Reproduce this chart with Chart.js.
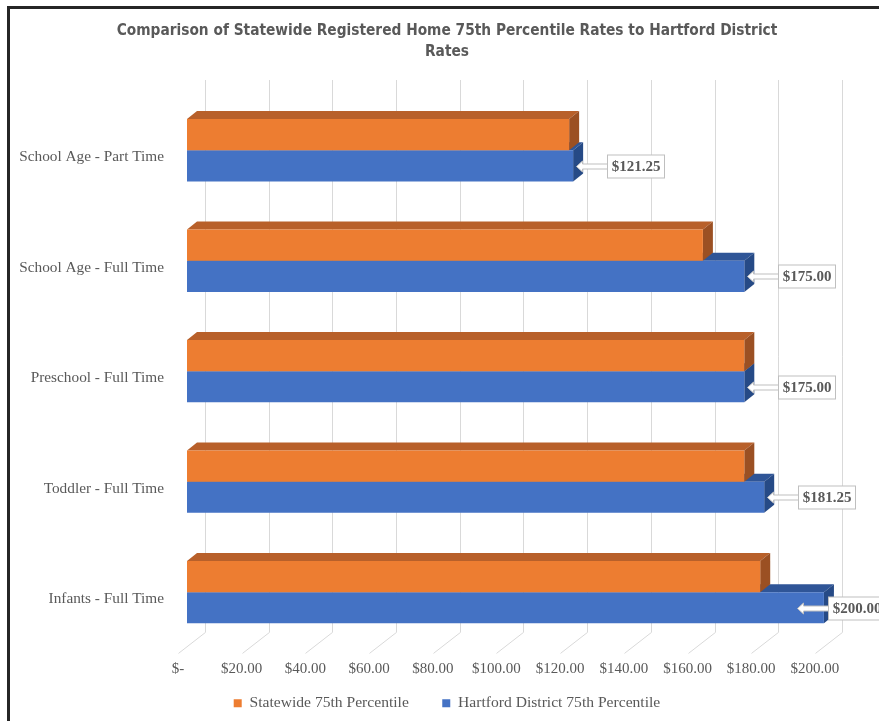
<!DOCTYPE html>
<html>
<head>
<meta charset="utf-8">
<title>Statewide vs Hartford District rates</title>
<script src="https://cdn.jsdelivr.net/npm/chart.js@4.4.1/dist/chart.umd.min.js"></script>
<style>
    html, body { margin: 0; padding: 0; background: #fff; overflow: hidden; }
    #wrap { position: relative; width: 879px; height: 721px; }
    #chart { position: absolute; left: 0; top: 0; }
    #frame {
        position: absolute; left: 7px; top: 6px; width: 900px; height: 800px;
        border-left: 3px solid #262626; border-top: 3px solid #262626;
        pointer-events: none;
    }
</style>
</head>
<body>
<div id="wrap">
    <canvas id="chart" width="879" height="721"></canvas>
    <div id="frame"></div>
</div>
<script>
// chart data
const categories = [
    'School Age - Part Time',
    'School Age - Full Time',
    'Preschool - Full Time',
    'Toddler - Full Time',
    'Infants - Full Time'
];
const statewide = [120, 162, 175, 175, 180];
const hartford = [121.25, 175, 175, 181.25, 200];
const xTickValues = [0, 20, 40, 60, 80, 100, 120, 140, 160, 180, 200];
const xTickLabels = ['$-', '$20.00', '$40.00', '$60.00', '$80.00', '$100.00',
    '$120.00', '$140.00', '$160.00', '$180.00', '$200.00'];

const GRAY_TEXT = '#595959';
const SERIF = "'Liberation Serif', 'DejaVu Serif', serif";
// the plot runs on past the last tick, into the cut-off right edge
const X_MAX = 217.3;

// 3D look of the Excel bars: depth offset and face shades
const DEPTH = { dx: 10, dy: -8 };
const shades = [
    { top: '#B8602A', side: '#9B5023' },   // orange
    { top: '#2F5597', side: '#264A86' }    // blue
];

// back-wall gridlines with the slanted floor foot
const wallGrid = {
    id: 'wallGrid',
    beforeDatasetsDraw(chart) {
        const { ctx, chartArea, scales } = chart;
        ctx.save();
        ctx.strokeStyle = '#D9D9D9';
        ctx.lineWidth = 1;
        scales.x.ticks.forEach(t => {
            const xb = Math.round(scales.x.getPixelForValue(t.value) + 18) + 0.5;
            ctx.beginPath();
            ctx.moveTo(xb, chartArea.top - 15);
            ctx.lineTo(xb, chartArea.bottom - 15);
            ctx.lineTo(xb - 27, chartArea.bottom + 6);
            ctx.stroke();
        });
        ctx.restore();
    }
};

// top and side faces, drawn before the flat front faces
const barDepth = {
    id: 'barDepth',
    beforeDatasetsDraw(chart) {
        const ctx = chart.ctx;
        ctx.save();
        for (let d = chart.data.datasets.length - 1; d >= 0; d--) {
            chart.getDatasetMeta(d).data.forEach(el => {
                const { x, y, base, height } = el.getProps(['x', 'y', 'base', 'height'], true);
                const top = y - height / 2, bottom = y + height / 2;
                ctx.fillStyle = shades[d].top;
                ctx.beginPath();
                ctx.moveTo(base, top);
                ctx.lineTo(x, top);
                ctx.lineTo(x + DEPTH.dx, top + DEPTH.dy);
                ctx.lineTo(base + DEPTH.dx, top + DEPTH.dy);
                ctx.closePath();
                ctx.fill();
                ctx.fillStyle = shades[d].side;
                ctx.beginPath();
                ctx.moveTo(x, top);
                ctx.lineTo(x, bottom);
                ctx.lineTo(x + DEPTH.dx, bottom + DEPTH.dy);
                ctx.lineTo(x + DEPTH.dx, top + DEPTH.dy);
                ctx.closePath();
                ctx.fill();
            });
        }
        ctx.restore();
    }
};

// callout boxes with arrow for the Hartford series
const callouts = {
    id: 'callouts',
    afterDatasetsDraw(chart) {
        const ctx = chart.ctx;
        const meta = chart.getDatasetMeta(1);
        const limit = chart.scales.x.getPixelForValue(200) + 4;
        const boxW = 57, boxH = 23;
        ctx.save();
        meta.data.forEach((el, i) => {
            const end = el.x, cy = Math.round(el.y) + 0.5;
            const boxLeft = Math.round(Math.min(end + 34, limit)) + 0.5;
            const tip = boxLeft - 31;
            ctx.fillStyle = '#fff';
            ctx.strokeStyle = '#BFBFBF';
            ctx.lineWidth = 1;
            ctx.beginPath();
            ctx.moveTo(tip, cy);
            ctx.lineTo(tip + 6, cy - 5.5);
            ctx.lineTo(tip + 6, cy - 2.5);
            ctx.lineTo(boxLeft, cy - 2.5);
            ctx.lineTo(boxLeft, cy + 2.5);
            ctx.lineTo(tip + 6, cy + 2.5);
            ctx.lineTo(tip + 6, cy + 5.5);
            ctx.closePath();
            ctx.fill();
            ctx.stroke();
            ctx.fillRect(boxLeft, cy - boxH / 2, boxW, boxH);
            ctx.strokeRect(boxLeft, cy - boxH / 2, boxW, boxH);
            ctx.fillStyle = GRAY_TEXT;
            ctx.font = 'bold 15px ' + SERIF;
            ctx.textAlign = 'center';
            ctx.textBaseline = 'middle';
            ctx.fillText('$' + hartford[i].toFixed(2), boxLeft + boxW / 2, cy + 1);
        });
        ctx.restore();
    }
};

new Chart(document.getElementById('chart'), {
    type: 'bar',
    data: {
        labels: categories,
        datasets: [
            {
                label: 'Statewide 75th Percentile',
                data: statewide,
                backgroundColor: '#ED7D31',
                borderWidth: 0
            },
            {
                label: 'Hartford District 75th Percentile',
                data: hartford,
                backgroundColor: '#4472C4',
                borderWidth: 0
            }
        ]
    },
    options: {
        indexAxis: 'y',
        responsive: false,
        devicePixelRatio: 1,
        animation: false,
        categoryPercentage: 0.564,
        barPercentage: 1,
        layout: { padding: { left: 15, right: 0, top: 0, bottom: 0 } },
        scales: {
            x: {
                min: 0,
                max: X_MAX,
                grid: { display: false, drawTicks: false },
                border: { display: false },
                afterBuildTicks: scale => {
                    scale.ticks = xTickValues.map(v => ({ value: v }));
                },
                ticks: {
                    autoSkip: false,
                    maxRotation: 0,
                    padding: 13,
                    labelOffset: -9,
                    color: GRAY_TEXT,
                    font: { family: SERIF, size: 15 },
                    callback: (v, i) => xTickLabels[i]
                },
                afterFit: scale => { scale.height = 38; }
            },
            y: {
                grid: { display: false, drawTicks: false },
                border: { display: false },
                ticks: {
                    padding: 23,
                    labelOffset: 7,
                    color: GRAY_TEXT,
                    font: { family: SERIF, size: 15.3 }
                },
                afterFit: scale => { scale.width = 172; }
            }
        },
        plugins: {
            title: {
                display: true,
                text: ['Comparison of Statewide Registered Home 75th Percentile Rates to Hartford District', 'Rates'],
                color: GRAY_TEXT,
                font: { family: "'DejaVu Sans Condensed', 'Liberation Sans Narrow', sans-serif", size: 15.3, weight: 'bold', lineHeight: 1.36 },
                padding: { top: 20.6, bottom: 32.8 }
            },
            legend: {
                position: 'bottom',
                labels: {
                    boxWidth: 8,
                    boxHeight: 8,
                    padding: 10,
                    color: GRAY_TEXT,
                    font: { family: SERIF, size: 15.6 },
                    // wider gap after the first entry, as in the original legend
                    generateLabels: chart => Chart.defaults.plugins.legend.labels.generateLabels(chart)
                        .map((item, i) => i === 0 ? { ...item, text: item.text + '\u2003\u2002' } : item)
                }
            },
            tooltip: { enabled: false }
        }
    },
    plugins: [wallGrid, barDepth, callouts]
});
</script>
</body>
</html>
